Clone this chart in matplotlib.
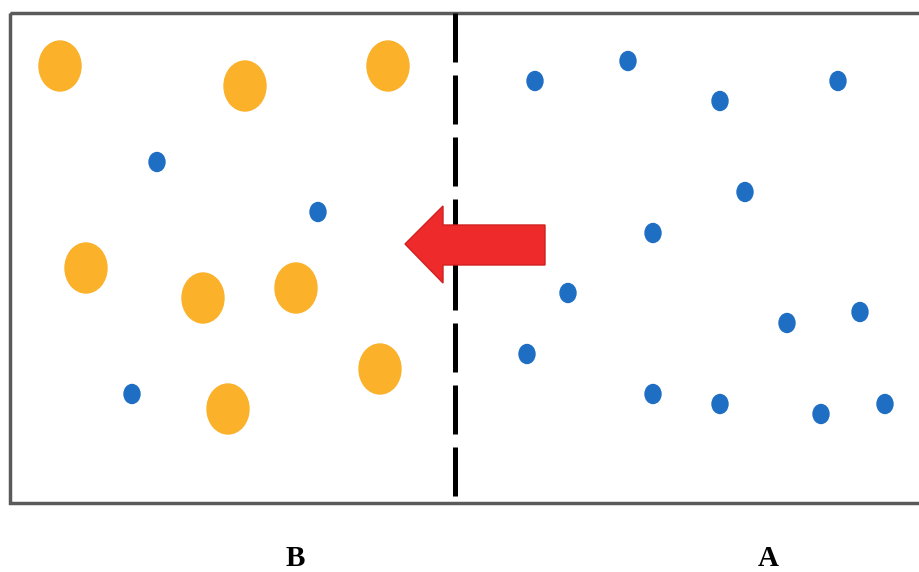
import matplotlib
matplotlib.use("Agg")
import matplotlib.pyplot as plt
from matplotlib.patches import Ellipse, Rectangle, Polygon

# big orange particles (solute), pixel positions in the picture
big_x = [60, 245, 388, 86, 203, 296, 380, 228]
big_y = [66, 86, 66, 268, 298, 288, 369, 409]

# small blue particles (water), left side B and right side A
small_x = [157, 318, 132,
           535, 628, 720, 838, 745, 653, 568, 787, 860, 527, 653, 720, 821, 885]
small_y = [162, 212, 394,
           81, 61, 101, 81, 192, 233, 293, 323, 312, 354, 394, 404, 414, 404]

labels = ["B", "A"]
label_x = [295, 768]

fig = plt.figure(figsize=(9.2, 5.72), dpi=100)
ax = fig.add_axes([0, 0, 1, 1])
ax.set_xlim(0, 920)
ax.set_ylim(572, 0)
ax.axis("off")

# the container
ax.add_patch(Rectangle((10, 13), 915, 490, fill=False, edgecolor="#5a5a5a", linewidth=2.5))

# membrane
ax.plot([455, 455], [13, 503], color="black", linewidth=3.6, linestyle=(0, (9.8, 2.6)))

for x, y in zip(big_x, big_y):
    ax.add_patch(Ellipse((x, y), 42, 50, color="#FBB12A", zorder=3))

for x, y in zip(small_x, small_y):
    ax.add_patch(Ellipse((x, y), 16, 19, color="#1E6EC4", zorder=3))

# arrow, water moves from A to B
arrow = [(545, 225), (443, 225), (443, 206), (405, 244), (443, 283), (443, 265), (545, 265)]
ax.add_patch(Polygon(arrow, closed=True, facecolor="#EE2A2A", edgecolor="#d02020", linewidth=1, zorder=4))

for lab, x in zip(labels, label_x):
    ax.text(x, 566, lab, ha="center", va="baseline", fontsize=21, fontweight="bold",
            family="Liberation Serif")

fig.savefig("out.png", dpi=100)
